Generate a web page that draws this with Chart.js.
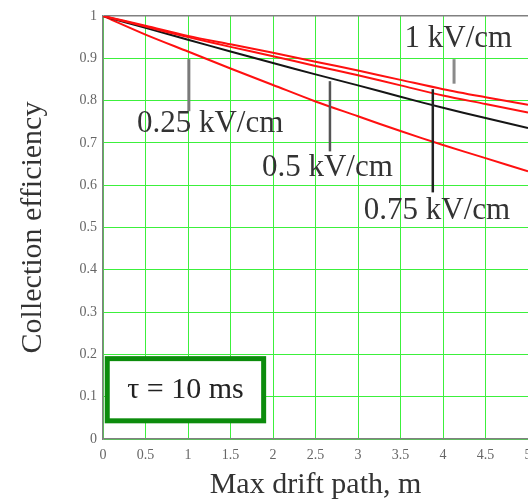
<!DOCTYPE html>
<html>
<head>
<meta charset="utf-8">
<script src="https://cdn.jsdelivr.net/npm/chart.js@4.4.1/dist/chart.umd.min.js"></script>
<style>
  html, body { margin: 0; padding: 0; background: #fff; }
  #wrap { width: 528px; height: 503px; }
</style>
</head>
<body>
<div id="wrap"><canvas id="chart" width="528" height="503"></canvas></div>
<script>
// drift path (m) and collection efficiency
const driftPath = [0, 0.5, 1, 1.5, 2, 2.5, 3, 3.5, 4, 4.5, 5];
const eff1kV   = [1, 0.977, 0.953, 0.933, 0.913, 0.892, 0.871, 0.849, 0.827, 0.808, 0.790];
const eff075kV = [1, 0.975, 0.950, 0.927, 0.905, 0.882, 0.860, 0.836, 0.812, 0.792, 0.772];
const eff05kV  = [1, 0.972, 0.944, 0.916, 0.889, 0.862, 0.836, 0.809, 0.783, 0.759, 0.735];
const eff025kV = [1, 0.956, 0.916, 0.876, 0.837, 0.798, 0.763, 0.728, 0.695, 0.664, 0.633];

const seriesNames = ['1 kV/cm', '0.75 kV/cm', '0.5 kV/cm', '0.25 kV/cm'];
const xTicks = [0, 0.5, 1, 1.5, 2, 2.5, 3, 3.5, 4, 4.5, 5];
const yTicks = [0, 0.1, 0.2, 0.3, 0.4, 0.5, 0.6, 0.7, 0.8, 0.9, 1];

const SERIF = '"Liberation Serif", "Times New Roman", serif';
const GRID_GREEN = '#3cf03c';
const FRAME_GRAY = '#808080';

// labels and their pointer lines, in data units
const curveLabels = [
    { text: seriesNames[0], x: 4.18, y: 0.945, px: 4.13, y1: 0.898, y2: 0.840, color: '#8a8a8a', width: 3 },
    { text: seriesNames[1], x: 3.93, y: 0.540, px: 3.88, y1: 0.827, y2: 0.583, color: '#222', width: 2.5 },
    { text: seriesNames[2], x: 2.64, y: 0.642, px: 2.67, y1: 0.846, y2: 0.680, color: '#555', width: 2.5 },
    { text: seriesNames[3], x: 1.26, y: 0.746, px: 1.01, y1: 0.898, y2: 0.775, color: '#7a7a7a', width: 3 }
];
const tauBox = { text: 'τ = 10 ms', x1: 0.05, x2: 1.89, y1: 0.19, y2: 0.043 };

const annotationPlugin = {
    id: 'curveAnnotations',
    afterDatasetsDraw(chart) {
        const { ctx, scales: { x, y } } = chart;
        ctx.save();

        // pointer lines
        curveLabels.forEach(l => {
            const px = x.getPixelForValue(l.px);
            ctx.beginPath();
            ctx.strokeStyle = l.color;
            ctx.lineWidth = l.width;
            ctx.moveTo(px, y.getPixelForValue(l.y1));
            ctx.lineTo(px, y.getPixelForValue(l.y2));
            ctx.stroke();
        });

        // curve labels
        ctx.font = '31px ' + SERIF;
        ctx.fillStyle = '#333';
        ctx.textAlign = 'center';
        ctx.textBaseline = 'middle';
        curveLabels.forEach(l => {
            ctx.fillText(l.text, x.getPixelForValue(l.x), y.getPixelForValue(l.y));
        });

        // tau box
        const bx1 = x.getPixelForValue(tauBox.x1);
        const bx2 = x.getPixelForValue(tauBox.x2);
        const by1 = y.getPixelForValue(tauBox.y1);
        const by2 = y.getPixelForValue(tauBox.y2);
        ctx.fillStyle = '#fff';
        ctx.fillRect(bx1, by1, bx2 - bx1, by2 - by1);
        ctx.strokeStyle = '#0c8c0c';
        ctx.lineWidth = 5;
        ctx.strokeRect(bx1, by1, bx2 - bx1, by2 - by1);
        ctx.fillStyle = '#222';
        ctx.font = '30px ' + SERIF;
        ctx.fillText(tauBox.text, (bx1 + bx2) / 2, (by1 + by2) / 2);

        ctx.restore();
    }
};

const makeSet = (label, values, color) => ({
    label,
    data: driftPath.map((d, i) => ({ x: d, y: values[i] })),
    borderColor: color,
    borderWidth: 2,
    pointRadius: 0,
    tension: 0.3,
    fill: false
});

new Chart(document.getElementById('chart'), {
    type: 'line',
    data: {
        datasets: [
            makeSet(seriesNames[0], eff1kV, '#ff1010'),
            makeSet(seriesNames[1], eff075kV, '#ff1010'),
            makeSet(seriesNames[2], eff05kV, '#151515'),
            makeSet(seriesNames[3], eff025kV, '#ff1010')
        ]
    },
    options: {
        responsive: false,
        animation: false,
        layout: { padding: { top: 16, left: 0, right: 0, bottom: 0 } },
        plugins: { legend: { display: false }, tooltip: { enabled: false } },
        scales: {
            x: {
                type: 'linear',
                min: 0,
                max: 5,
                afterBuildTicks: scale => { scale.ticks = xTicks.map(v => ({ value: v })); },
                afterFit: scale => { scale.height = 64; scale.paddingLeft = 0; scale.paddingRight = 0; },
                grid: { color: GRID_GREEN, lineWidth: 1, drawTicks: false },
                border: { color: FRAME_GRAY, width: 1.5 },
                ticks: {
                    padding: 8,
                    maxRotation: 0,
                    autoSkip: false,
                    color: '#666',
                    font: { family: SERIF, size: 14 },
                    callback: v => String(v)
                },
                title: {
                    display: true,
                    text: 'Max drift path, m',
                    color: '#333',
                    font: { family: SERIF, size: 30 },
                    padding: { top: 0, bottom: 0 }
                }
            },
            y: {
                type: 'linear',
                min: 0,
                max: 1,
                afterBuildTicks: scale => { scale.ticks = yTicks.map(v => ({ value: v })); },
                afterFit: scale => { scale.width = 103; scale.paddingTop = 0; scale.paddingBottom = 0; },
                grid: {
                    color: c => (c.tick && c.tick.value === 1 ? FRAME_GRAY : GRID_GREEN),
                    lineWidth: c => (c.tick && c.tick.value === 1 ? 1.5 : 1),
                    drawTicks: false
                },
                border: { color: FRAME_GRAY, width: 1.5 },
                ticks: {
                    padding: 6,
                    color: '#666',
                    font: { family: SERIF, size: 14 },
                    callback: v => String(Math.round(v * 10) / 10)
                },
                title: {
                    display: true,
                    text: 'Collection efficiency',
                    color: '#333',
                    font: { family: SERIF, size: 30 },
                    padding: { top: 15, bottom: 0 }
                }
            }
        }
    },
    plugins: [annotationPlugin]
});
</script>
</body>
</html>
